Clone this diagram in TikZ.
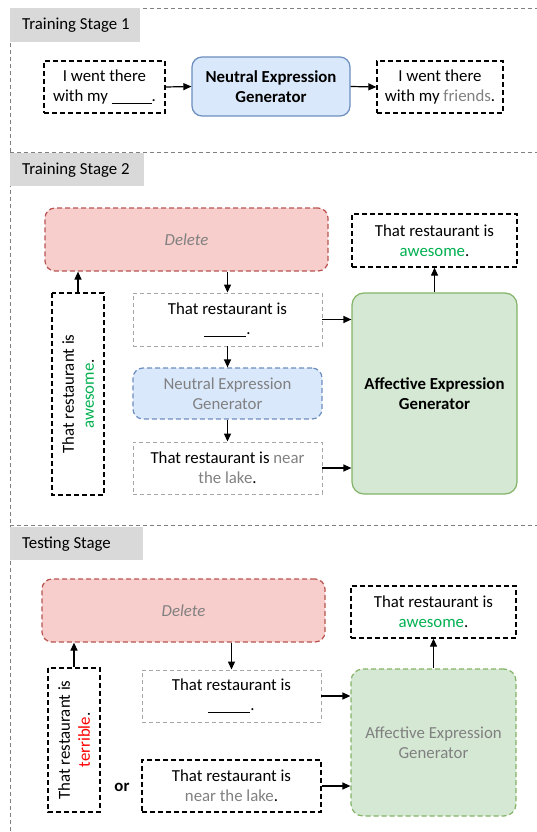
\documentclass[tikz,border=0pt]{standalone}
\usepackage{fontspec}
\setmainfont{Carlito}
\usetikzlibrary{arrows.meta}
\definecolor{negfill}{HTML}{DAE8FC}
\definecolor{negdraw}{HTML}{6C8EBF}
\definecolor{delfill}{HTML}{F8CECC}
\definecolor{deldraw}{HTML}{B85450}
\definecolor{aegfill}{HTML}{D5E8D4}
\definecolor{aegdraw}{HTML}{82B366}
\definecolor{lblfill}{HTML}{D9D9D9}
\definecolor{posgreen}{HTML}{00B050}
\definecolor{txtgray}{HTML}{808080}
\definecolor{boxgray}{HTML}{A6A6A6}
\begin{document}
\begin{tikzpicture}[x=1pt,y=-1pt,
  every node/.style={font=\fontsize{16.8}{20}\selectfont, inner sep=0pt, align=center},
  blackbox/.style={draw=black, line width=1.3pt, dash pattern=on 5pt off 3pt},
  graybox/.style={draw=boxgray, line width=0.9pt, dash pattern=on 4pt off 3pt},
  negbox/.style={draw=negdraw, fill=negfill, line width=1.2pt, rounded corners=10pt},
  delbox/.style={draw=deldraw, fill=delfill, line width=1.2pt, rounded corners=10pt, dash pattern=on 5pt off 3pt},
  aegbox/.style={draw=aegdraw, fill=aegfill, line width=1.2pt, rounded corners=12pt},
  stagelabel/.style={fill=lblfill, anchor=north west},
  stagetext/.style={anchor=west},
  arr/.style={-{Triangle[length=8pt,width=7pt]}, line width=1.2pt},
  frame/.style={draw=txtgray, line width=0.7pt, dash pattern=on 4pt off 3pt}
]
\useasboundingbox (0,0) rectangle (537,832);
% frames
\draw[frame] (10,8) -- (537,8);
\draw[frame] (10,152) -- (537,152);
\draw[frame] (10,525) -- (537,525);
\draw[frame] (10,8) -- (10,832);
% stage labels
\node[stagelabel, minimum width=130pt, minimum height=34pt] (l1) at (10,8) {};
\node[stagetext] (t1) at (22,25) {Training Stage 1};
\node[stagelabel, minimum width=134pt, minimum height=33pt] (l2) at (10,153) {};
\node[stagetext] (t2) at (22,170) {Training Stage 2};
\node[stagelabel, minimum width=133pt, minimum height=33pt] (l3) at (10,527) {};
\node[stagetext] (t3) at (22,544) {Testing Stage};

% ---------- Stage 1
\node[blackbox, minimum width=121pt, minimum height=52pt] (in1) at (104.5,87) {I went there\\with my \underline{\hspace{40pt}}.};
\node[negbox, minimum width=158pt, minimum height=59pt] (neg1) at (271,86.5) {\textbf{Neutral Expression}\\\textbf{Generator}};
\node[blackbox, minimum width=126pt, minimum height=52pt] (out1) at (440,87) {I went there\\with my \textcolor{txtgray}{friends}.};
\draw[arr] (in1.east) -- (neg1.west);
\draw[arr] (neg1.east) -- (out1.west);

% ---------- Stage 2
\node[delbox, minimum width=283pt, minimum height=63pt] (del2) at (186.5,239.5) {\textcolor{txtgray}{\itshape Delete}};
\node[blackbox, minimum width=165pt, minimum height=53pt] (out2) at (434.5,240.5) {That restaurant is\\\textcolor{posgreen}{awesome}.};
\node[blackbox, minimum width=202pt, minimum height=52pt, rotate=90] (vin2) at (78,394) {That restaurant is\\\textcolor{posgreen}{awesome}.};
\node[graybox, minimum width=189pt, minimum height=53pt] (blank2) at (227.5,319.5) {That restaurant is\\\underline{\hspace{42pt}}.};
\node[negbox, draw=negdraw, dash pattern=on 5pt off 3pt, minimum width=189pt, minimum height=51pt] (neg2) at (227.5,393.5) {\textcolor{txtgray}{Neutral Expression}\\\textcolor{txtgray}{Generator}};
\node[graybox, minimum width=189pt, minimum height=52pt] (lake2) at (227.5,468) {That restaurant is \textcolor{txtgray}{near}\\\textcolor{txtgray}{the lake}.};
\node[aegbox, minimum width=165pt, minimum height=201pt] (aeg2) at (434.5,393.5) {\textbf{Affective Expression}\\\textbf{Generator}};
\draw[arr] (vin2.east) -- (vin2.east |- del2.south);
\draw[arr] (blank2.north |- del2.south) -- (blank2.north);
\draw[arr] (blank2.south) -- (neg2.north);
\draw[arr] (neg2.south) -- (lake2.north);
\draw[arr] (blank2.east) -- (blank2.east -| aeg2.west);
\draw[arr] (lake2.east) -- (lake2.east -| aeg2.west);
\draw[arr] (aeg2.north) -- (out2.south);

% ---------- Testing stage
\node[delbox, minimum width=283pt, minimum height=63pt] (del3) at (183.5,610.5) {\textcolor{txtgray}{\itshape Delete}};
\node[blackbox, minimum width=165pt, minimum height=52pt] (out3) at (433.5,612) {That restaurant is\\\textcolor{posgreen}{awesome}.};
\node[blackbox, minimum width=144pt, minimum height=52pt, rotate=90] (vin3) at (74,740) {That restaurant is\\\textcolor{red}{terrible}.};
\node[graybox, minimum width=179pt, minimum height=52pt] (blank3) at (231.5,696) {That restaurant is\\\underline{\hspace{42pt}}.};
\node[blackbox, minimum width=179pt, minimum height=52pt] (lake3) at (231.5,786) {That restaurant is\\\textcolor{txtgray}{near the lake}.};
\node (or3) at (122,787) {\textbf{or}};
\node[aegbox, dash pattern=on 5pt off 3pt, minimum width=165pt, minimum height=147pt] (aeg3) at (433.5,742.5) {\textcolor{txtgray}{Affective Expression}\\\textcolor{txtgray}{Generator}};
\draw[arr] (vin3.east) -- (vin3.east |- del3.south);
\draw[arr] (blank3.north |- del3.south) -- (blank3.north);
\draw[arr] (blank3.east) -- (blank3.east -| aeg3.west);
\draw[arr] (lake3.east) -- (lake3.east -| aeg3.west);
\draw[arr] (aeg3.north) -- (out3.south);
\end{tikzpicture}
\end{document}
